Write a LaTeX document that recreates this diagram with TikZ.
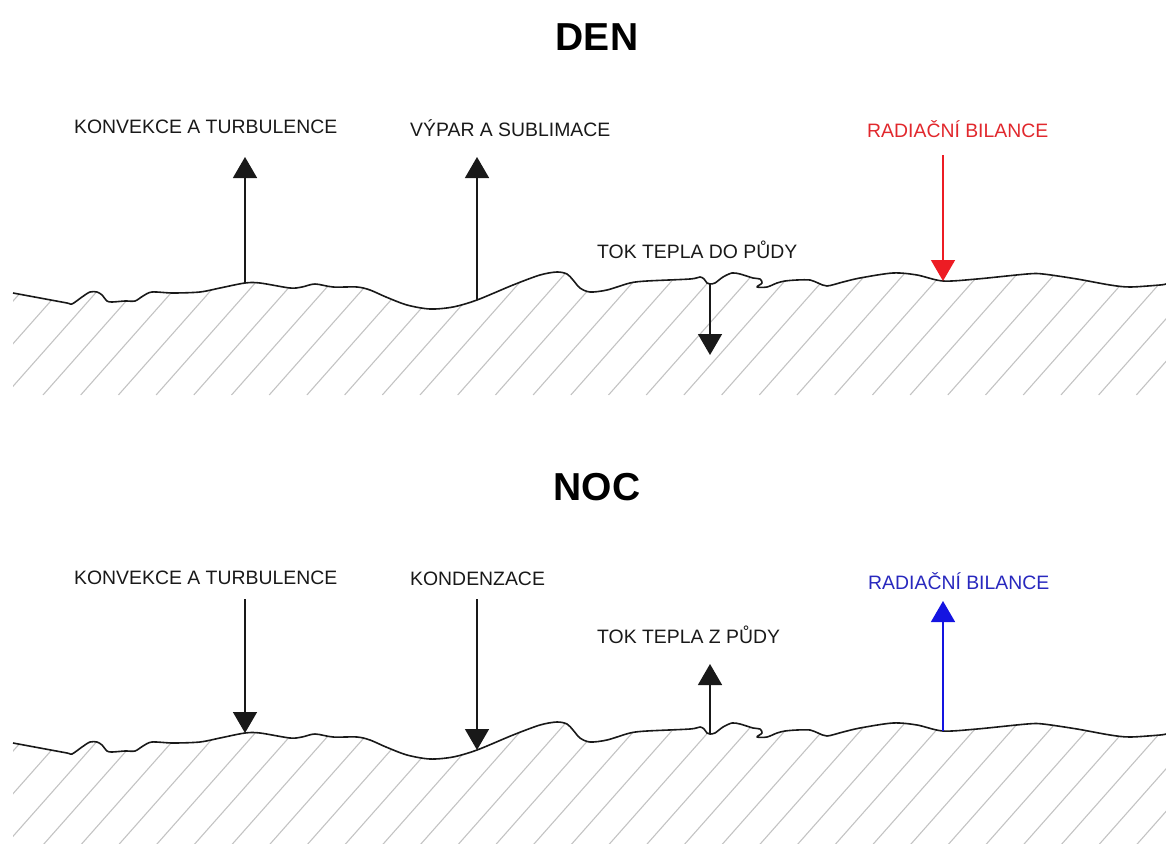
\documentclass[tikz,border=0pt]{standalone}
\usepackage{fontspec}
\setmainfont{Liberation Sans}
\usetikzlibrary{arrows.meta}
\definecolor{txt}{RGB}{25,25,25}
\definecolor{redarr}{RGB}{237,28,36}
\definecolor{redtxt}{RGB}{225,40,45}
\definecolor{bluearr}{RGB}{20,20,225}
\definecolor{bluetxt}{RGB}{40,40,190}
\definecolor{hatchc}{RGB}{195,195,195}
\newcommand\groundline{plot[smooth,tension=0.5] coordinates {
(13,293) (40,298) (67,303) (72,304) (82,297) (90,292) (97,292) (102,295) (107,301) (112,302)
(125,301) (135,301) (143,296) (152,292) (173,293) (200,292) (220,288) (245,283) (260,283)
(290,288) (302,287) (315,284) (333,287) (357,287) (370,290) (386,297) (407,305) (430,309)
(453,307) (477,300) (513,285) (540,275) (557,272) (567,274) (573,280) (580,288) (590,292)
(607,290) (630,283) (647,281) (690,279) (700,277) (704,279) (707,283) (710,284) (715,283)
(723,277) (732,273) (740,274) (753,278) (760,279) (762,283) (757,287) (767,287) (777,283)
(785,281) (797,280) (810,280) (818,283) (827,286) (843,282) (860,278) (893,273) (917,275)
(943,281) (977,279) (1027,274) (1043,274) (1077,279) (1110,285) (1130,287) (1160,285) (1166,284)}}
\begin{document}
\begin{tikzpicture}[x=1pt,y=-1pt,
  lbl/.style={font=\fontsize{19.4}{22}\selectfont, text=txt, anchor=base west, inner sep=0pt},
  ttl/.style={font=\bfseries\fontsize{39}{44}\selectfont, text=black, inner sep=0pt},
  flux/.style={draw=txt, line width=1.5pt, -{Triangle[width=24pt,length=21pt]}},
  ground/.style={draw=black!90, line width=1.6pt, line join=round},
  hatchl/.style={draw=hatchc, line width=1.1pt}]
\useasboundingbox (0,0) rectangle (1166,843);

% ---- panels (ground + hatching)
\foreach \dy in {0,450}{
  \begin{scope}[shift={(0,\dy)}]
    \begin{scope}
      \clip \groundline -- (1166,395) -- (13,395) -- cycle;
      \foreach \k in {-4,...,31}
        \draw[hatchl] ({43+\k*37.7},395) -- ++(160,-180.8);
    \end{scope}
    \draw[ground] \groundline;
  \end{scope}
}

% ---- titles
\node[ttl] (den) at (597,37) {DEN};
\node[ttl] (noc) at (597,487) {NOC};

% ---- DEN labels
\node[lbl] (konv1) at (74,133) {KONVEKCE A TURBULENCE};
\node[lbl] (vypar) at (410,136) {VÝPAR A SUBLIMACE};
\node[lbl, text=redtxt] (rad1) at (867,137) {RADIAČNÍ BILANCE};
\node[lbl] (tok1) at (597,258) {TOK TEPLA DO PŮDY};

% ---- NOC labels
\node[lbl] (konv2) at (74,584) {KONVEKCE A TURBULENCE};
\node[lbl] (kond) at (410,585) {KONDENZACE};
\node[lbl] (tok2) at (597,643) {TOK TEPLA Z PŮDY};
\node[lbl, text=bluetxt] (rad2) at (868,589) {RADIAČNÍ BILANCE};

% ---- DEN arrows
\coordinate (g1) at (245,283); \coordinate (t1) at (245,157);
\coordinate (g2) at (477,300); \coordinate (t2) at (477,157);
\coordinate (g3) at (710,283); \coordinate (t3) at (710,355);
\coordinate (s4) at (943,155); \coordinate (g4) at (943,281);
\draw[flux] (g1) -- (t1);
\draw[flux] (g2) -- (t2);
\draw[flux] (g3) -- (t3);
\draw[flux, draw=redarr, fill=redarr] (s4) -- (g4);

% ---- NOC arrows
\coordinate (s5) at (245,599); \coordinate (g5) at (245,733);
\coordinate (s6) at (477,599); \coordinate (g6) at (477,750);
\coordinate (g7) at (710,733); \coordinate (t7) at (710,664);
\coordinate (g8) at (943,731); \coordinate (t8) at (943,601);
\draw[flux] (s5) -- (g5);
\draw[flux] (s6) -- (g6);
\draw[flux] (g7) -- (t7);
\draw[flux, draw=bluearr, fill=bluearr] (g8) -- (t8);
\end{tikzpicture}
\end{document}
